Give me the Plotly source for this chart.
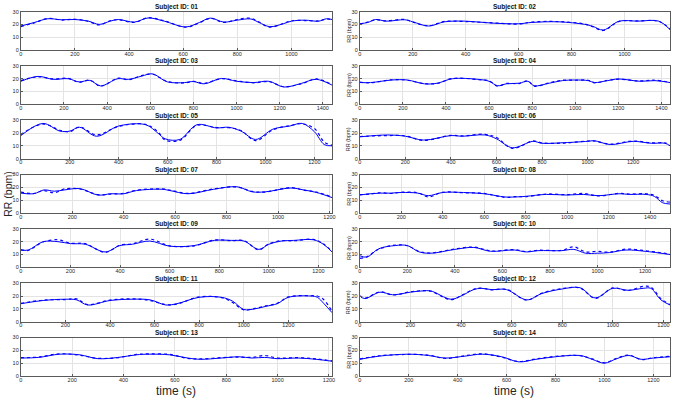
import plotly.graph_objects as go

# ---------------- data (time in s, RR in bpm) ----------------
subject_ids = ["01", "02", "03", "04", "05", "06", "07", "08", "09", "10", "11", "12", "13", "14"]
x_max = [1150, 1172, 1443, 1440, 1272, 1362, 1210, 1496, 1255, 1305, 1396, 1226, 1212, 1268]

t01 = [0, 50, 100, 150, 200, 250, 290, 330, 360, 420, 470, 530, 610, 660, 700, 750, 800, 850, 880, 920, 970, 1000, 1050, 1100, 1130, 1150]
s01 = [18.7, 21.5, 24.4, 23.6, 23.8, 22.5, 20.0, 22.5, 23.8, 21.8, 25.0, 22.5, 18.0, 21.5, 24.9, 21.8, 23.3, 24.2, 21.5, 18.2, 20.5, 22.5, 23.3, 22.5, 24.4, 23.8]
d01 = [18.3, 21.2, 24.6, 23.4, 24.0, 22.3, 19.6, 22.8, 23.6, 21.5, 25.2, 22.8, 17.8, 21.2, 24.7, 21.5, 23.8, 24.8, 21.8, 17.8, 20.8, 22.8, 23.0, 22.7, 24.2, 23.6]

t02 = [0, 30, 60, 100, 170, 200, 260, 320, 400, 500, 600, 650, 750, 850, 880, 920, 980, 1050, 1130, 1172]
s02 = [20.5, 21.5, 23.8, 22.5, 23.6, 22.0, 18.7, 22.0, 22.5, 21.0, 20.5, 21.5, 22.0, 20.0, 18.5, 15.6, 22.5, 22.5, 22.5, 16.0]
d02 = [20.2, 21.8, 23.5, 22.8, 23.8, 21.8, 18.9, 22.3, 22.2, 21.2, 20.3, 21.8, 22.2, 20.3, 18.2, 15.2, 22.3, 22.7, 22.3, 16.3]

t03 = [0, 80, 150, 220, 270, 320, 370, 450, 500, 560, 610, 680, 760, 800, 850, 930, 1000, 1080, 1150, 1220, 1300, 1370, 1443]
s03 = [18.0, 21.8, 19.5, 20.0, 17.5, 18.7, 14.4, 20.0, 19.5, 22.0, 23.8, 17.5, 17.0, 17.8, 16.0, 20.2, 18.0, 17.0, 18.0, 13.5, 16.3, 19.5, 15.0]
d03 = [18.5, 21.5, 19.8, 20.3, 17.2, 18.9, 14.2, 20.4, 19.2, 22.4, 23.5, 17.8, 16.7, 18.0, 16.3, 20.0, 18.3, 16.8, 17.7, 13.8, 16.0, 19.8, 15.3]

t04 = [0, 50, 150, 220, 300, 360, 430, 550, 600, 640, 680, 740, 780, 810, 880, 940, 1000, 1060, 1090, 1150, 1200, 1300, 1370, 1440]
s04 = [17.0, 17.0, 19.0, 19.0, 16.0, 16.5, 20.0, 19.5, 18.0, 14.5, 16.0, 16.5, 18.0, 14.5, 16.5, 18.5, 19.0, 18.5, 17.0, 18.5, 19.8, 18.0, 18.5, 17.0]
d04 = [17.3, 16.8, 19.2, 18.8, 16.2, 16.3, 20.2, 19.3, 18.3, 14.2, 16.3, 16.2, 18.3, 14.2, 16.8, 18.8, 18.8, 18.8, 16.8, 18.7, 19.6, 18.3, 18.8, 17.2]

t05 = [0, 90, 160, 200, 240, 310, 400, 510, 560, 590, 650, 720, 800, 850, 900, 960, 1030, 1100, 1150, 1200, 1240, 1272]
s05 = [18.0, 27.5, 21.5, 21.5, 24.5, 17.5, 25.5, 26.5, 20.0, 15.5, 15.0, 26.5, 24.0, 24.5, 21.5, 15.0, 23.0, 25.5, 27.5, 21.0, 11.0, 10.0]
d05 = [18.8, 27.0, 22.2, 21.0, 24.8, 18.5, 25.2, 26.8, 21.0, 14.5, 14.3, 26.0, 24.3, 24.2, 22.0, 14.0, 22.5, 25.8, 27.2, 23.5, 13.0, 10.5]

t06 = [0, 120, 200, 280, 400, 450, 550, 600, 670, 760, 800, 900, 1000, 1030, 1100, 1200, 1280, 1340, 1362]
s06 = [17.0, 18.5, 17.5, 14.5, 18.0, 17.5, 18.5, 15.5, 8.5, 13.5, 12.0, 12.5, 13.5, 14.0, 11.0, 13.5, 12.0, 12.0, 10.0]
d06 = [17.3, 18.0, 17.8, 14.2, 18.2, 17.8, 19.0, 16.5, 8.0, 13.8, 12.3, 12.2, 13.8, 13.7, 11.3, 13.8, 12.3, 12.3, 10.4]

t07 = [0, 50, 90, 130, 170, 230, 300, 350, 400, 450, 550, 580, 650, 750, 840, 900, 950, 1050, 1100, 1150, 1210]
s07 = [15.5, 15.0, 18.0, 17.0, 18.0, 19.0, 14.0, 15.0, 15.0, 17.5, 18.5, 17.5, 15.0, 18.5, 20.5, 16.5, 16.5, 19.5, 18.0, 16.0, 12.0]
d07 = [16.3, 15.2, 17.5, 15.8, 18.8, 18.7, 14.3, 14.8, 15.3, 17.8, 18.8, 17.8, 15.3, 18.8, 20.3, 16.8, 16.3, 19.8, 17.8, 16.3, 12.4]

t08 = [0, 50, 100, 150, 200, 280, 330, 400, 500, 600, 700, 750, 800, 900, 1000, 1080, 1150, 1250, 1300, 1380, 1420, 1460, 1496]
s08 = [14.0, 15.0, 15.5, 15.5, 16.0, 15.5, 13.5, 16.0, 16.0, 15.0, 12.5, 12.5, 13.0, 14.5, 14.0, 14.5, 13.5, 15.0, 14.5, 14.5, 13.0, 8.0, 7.0]
d08 = [14.3, 14.8, 15.8, 15.2, 16.2, 15.8, 12.5, 16.2, 15.8, 15.3, 12.2, 12.8, 12.7, 14.8, 14.3, 15.2, 13.3, 15.3, 14.8, 15.0, 13.8, 9.5, 8.5]

t09 = [0, 30, 90, 150, 200, 260, 340, 400, 450, 520, 600, 700, 780, 850, 900, 960, 1000, 1050, 1100, 1180, 1220, 1255]
s09 = [13.5, 13.5, 20.0, 20.0, 18.5, 18.0, 12.0, 17.0, 18.0, 20.5, 16.5, 17.0, 21.0, 21.0, 20.5, 14.0, 18.0, 20.5, 21.0, 21.5, 18.0, 12.0]
d09 = [13.8, 13.2, 19.8, 21.5, 18.8, 18.5, 11.7, 17.3, 18.3, 22.0, 16.8, 16.8, 21.3, 20.8, 20.8, 13.7, 18.3, 20.8, 20.7, 21.8, 18.3, 12.4]

t10 = [0, 30, 80, 150, 200, 250, 300, 400, 480, 550, 650, 700, 750, 850, 900, 950, 1000, 1050, 1120, 1200, 1305]
s10 = [9.0, 8.0, 14.5, 17.0, 17.0, 12.0, 11.0, 14.0, 15.5, 12.5, 13.5, 12.0, 13.0, 13.0, 14.0, 11.0, 11.0, 11.5, 13.5, 12.5, 10.0]
d10 = [7.0, 8.2, 14.2, 17.3, 16.8, 12.3, 11.2, 14.3, 15.8, 12.8, 13.8, 12.3, 13.3, 13.3, 16.0, 12.0, 12.5, 11.8, 14.2, 13.0, 10.3]

t11 = [0, 100, 200, 250, 300, 400, 500, 580, 650, 700, 800, 900, 950, 1000, 1050, 1100, 1150, 1200, 1300, 1330, 1360, 1396]
s11 = [14.0, 16.5, 17.5, 17.0, 13.0, 16.5, 17.5, 17.0, 13.0, 14.0, 19.0, 19.0, 16.0, 9.5, 10.0, 12.0, 14.0, 19.0, 20.0, 19.0, 14.0, 7.0]
d11 = [14.3, 16.8, 17.2, 17.8, 13.3, 16.8, 17.8, 16.5, 13.3, 13.7, 19.3, 18.7, 15.0, 9.2, 10.3, 12.3, 14.3, 19.3, 20.2, 20.0, 17.0, 8.0]

t12 = [0, 20, 80, 130, 200, 250, 280, 360, 400, 450, 480, 520, 580, 660, 720, 800, 870, 930, 1000, 1060, 1120, 1150, 1190, 1226]
s12 = [20.0, 18.0, 23.0, 21.0, 23.0, 24.0, 24.0, 17.5, 20.0, 25.0, 26.0, 25.0, 25.0, 17.0, 22.0, 25.5, 26.5, 18.5, 26.0, 24.5, 26.0, 26.0, 17.0, 13.0]
d12 = [20.3, 18.3, 23.3, 20.8, 23.3, 24.2, 23.8, 17.2, 20.3, 25.3, 26.2, 24.8, 25.2, 16.8, 22.3, 25.8, 26.3, 18.2, 26.3, 24.3, 27.5, 27.0, 18.0, 13.3]

t13 = [0, 70, 150, 230, 300, 380, 450, 500, 580, 650, 700, 780, 850, 900, 950, 1000, 1080, 1150, 1212]
s13 = [14.0, 14.5, 17.0, 16.5, 13.5, 14.5, 16.5, 17.0, 16.5, 14.0, 13.0, 14.0, 15.0, 14.0, 14.5, 13.5, 14.0, 13.0, 11.5]
d13 = [14.3, 14.8, 17.3, 16.2, 13.8, 14.3, 16.8, 17.2, 16.8, 13.7, 13.3, 14.3, 14.7, 14.5, 16.0, 14.0, 14.3, 13.3, 11.8]

t14 = [0, 80, 200, 280, 350, 430, 500, 580, 650, 720, 800, 900, 950, 1000, 1050, 1100, 1150, 1200, 1268]
s14 = [13.0, 15.5, 17.0, 16.0, 14.0, 15.5, 17.0, 15.0, 11.0, 13.0, 15.0, 16.0, 13.0, 10.0, 13.5, 16.0, 13.0, 14.0, 15.0]
d14 = [13.3, 15.8, 16.8, 16.3, 13.7, 15.8, 17.3, 14.7, 11.3, 13.3, 15.3, 15.8, 13.3, 10.3, 13.8, 16.3, 12.8, 14.3, 15.3]

times = [t01, t02, t03, t04, t05, t06, t07, t08, t09, t10, t11, t12, t13, t14]
rr_solid = [s01, s02, s03, s04, s05, s06, s07, s08, s09, s10, s11, s12, s13, s14]
rr_dotted = [d01, d02, d03, d04, d05, d06, d07, d08, d09, d10, d11, d12, d13, d14]
y_ticks = [0, 10, 20, 30]

# ---------------- layout geometry ----------------
W, H = 677, 403
col_x = [(19, 333), (361, 674)]
row_top0, row_pitch, plot_h = 8.7, 55.15, 39.0

BLUE = "#0000FF"
TXT = "#262626"
FONT = "Liberation Sans, Arial, sans-serif"

fig = go.Figure()
annotations = []
layout_axes = {}

for i, sid in enumerate(subject_ids):
    col = i % 2
    row = i // 2
    n = i + 1
    sfx = "" if n == 1 else str(n)
    x0, x1 = col_x[col]
    top = row_top0 + row * row_pitch
    bot = top + plot_h
    xd = [x0 / W, x1 / W]
    yd = [1 - bot / H, 1 - top / H]

    fig.add_trace(go.Scatter(x=times[i], y=rr_dotted[i], mode="lines", line_shape="spline",
                             line=dict(color=BLUE, width=1.2, dash="dot"),
                             xaxis="x" + sfx, yaxis="y" + sfx, showlegend=False, hoverinfo="skip"))
    fig.add_trace(go.Scatter(x=times[i], y=rr_solid[i], mode="lines", line_shape="spline",
                             line=dict(color=BLUE, width=1.0),
                             xaxis="x" + sfx, yaxis="y" + sfx, showlegend=False, hoverinfo="skip"))

    layout_axes["xaxis" + sfx] = dict(
        domain=xd, anchor="y" + sfx, range=[0, x_max[i]], dtick=200, tick0=0,
        showgrid=True, gridcolor="#e3e3e3", gridwidth=1,
        showline=True, linecolor="#5a5a5a", linewidth=1, mirror=True,
        ticks="inside", ticklen=2, tickcolor="#5a5a5a", ticklabelstandoff=-2,
        ticklabeloverflow="allow",
        tickfont=dict(size=5.5, color=TXT, family=FONT), zeroline=False)
    layout_axes["yaxis" + sfx] = dict(
        domain=yd, anchor="x" + sfx, range=[0, 30], tickvals=y_ticks,
        showgrid=True, gridcolor="#e3e3e3", gridwidth=1,
        showline=True, linecolor="#5a5a5a", linewidth=1, mirror=True,
        ticks="inside", ticklen=2, tickcolor="#5a5a5a",
        tickfont=dict(size=5.5, color=TXT, family=FONT), zeroline=False)

    annotations.append(dict(text="<b>Subject ID: %s</b>" % sid, x=(xd[0] + xd[1]) / 2, y=yd[1],
                            xref="paper", yref="paper", xanchor="center", yanchor="bottom",
                            yshift=-1.5, showarrow=False, font=dict(size=6.5, color="#111", family=FONT)))
    if col == 1:
        annotations.append(dict(text="RR (bpm)", x=350 / W, y=(yd[0] + yd[1]) / 2,
                                xref="paper", yref="paper", xanchor="center", yanchor="middle",
                                textangle=-90, showarrow=False,
                                font=dict(size=5.5, color=TXT, family=FONT)))

# big left y label (beside Subject 07)
mid7 = 1 - (row_top0 + 3 * row_pitch + plot_h / 2) / H
annotations.append(dict(text="RR (bpm)", x=6 / W, y=mid7, xref="paper", yref="paper",
                        xanchor="center", yanchor="middle", textangle=-90, showarrow=False,
                        borderpad=0, font=dict(size=10.5, color=TXT, family=FONT)))
# x labels
ylab = 1 - 394 / H
annotations.append(dict(text="time (s)", x=176 / W, y=ylab, xref="paper", yref="paper",
                        xanchor="center", yanchor="middle", showarrow=False,
                        font=dict(size=12, color=TXT, family=FONT)))
annotations.append(dict(text="time (s)", x=517 / W, y=ylab, xref="paper", yref="paper",
                        xanchor="center", yanchor="middle", showarrow=False,
                        font=dict(size=12, color=TXT, family=FONT)))

fig.update_layout(width=W, height=H, margin=dict(l=0, r=0, t=0, b=0),
                  paper_bgcolor="white", plot_bgcolor="white",
                  annotations=annotations, **layout_axes)

fig.write_html("out.html", config={"displayModeBar": False},
               post_script="document.body.style.margin='0';document.body.style.padding='0';")
